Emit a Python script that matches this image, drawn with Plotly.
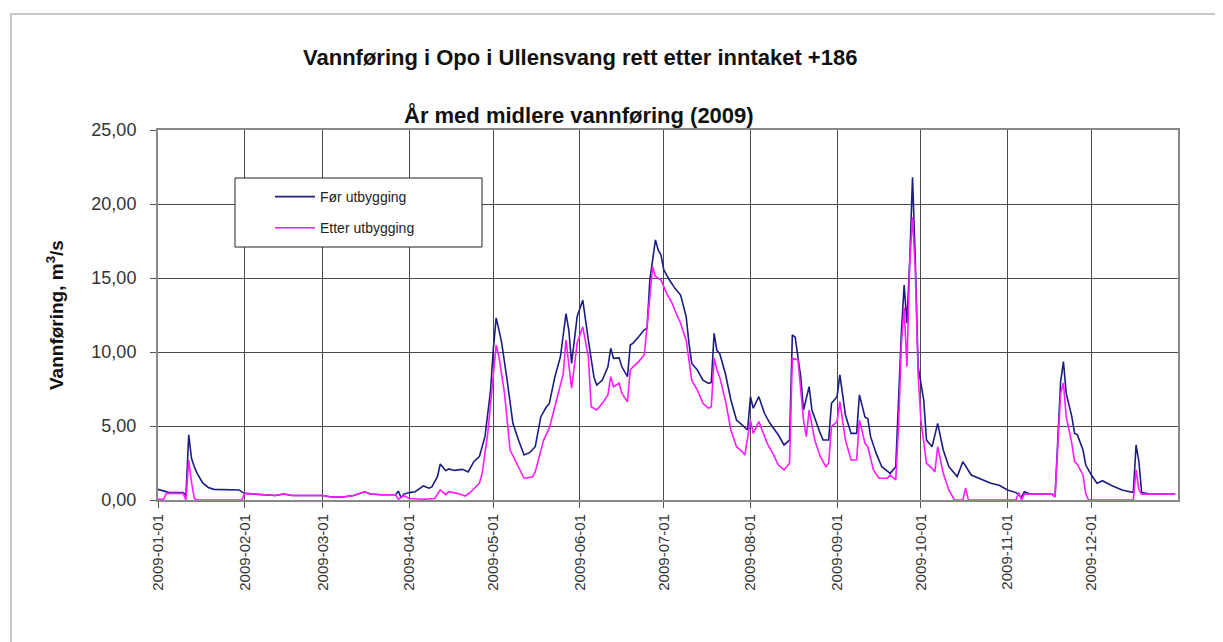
import pandas as pd
import plotly.graph_objects as go

# ---- data (day offset from 2009-01-01, value in m3/s) ----
for_days = [0, 2, 4, 9, 10, 11, 12, 13, 14, 16, 18, 20, 25, 29, 30, 31, 34, 38, 42, 45, 48, 52, 56, 59,
            62, 66, 70, 74, 76, 80, 85, 86, 87, 88, 90, 92, 95, 97, 98, 100, 101, 103, 104, 106, 109,
            111, 113, 115, 117, 119, 120, 121, 122, 123, 125, 127, 129, 131, 133, 135, 137, 139, 140,
            142, 144, 146, 147, 148, 150, 152, 154, 156, 157, 159, 161, 162, 163, 165, 166, 168, 169,
            170, 172, 174, 175, 176, 178, 179, 180, 181, 183, 185, 187, 189, 190, 191, 193, 195, 197,
            198, 199, 200, 201, 203, 205, 207, 209, 211, 212, 213, 215, 217, 219, 222, 224, 226, 227,
            228, 230, 231, 233, 234, 237, 238, 240, 241, 243, 244, 246, 248, 250, 251, 253, 254, 255,
            257, 259, 262, 264, 265, 266, 267, 268, 269, 270, 271, 272, 274, 275, 277, 279, 281, 283,
            286, 288, 291, 294, 298, 301, 304, 307, 309, 310, 312, 320, 321, 323, 324, 325, 327, 328,
            329, 331, 332, 334, 336, 338, 341, 345, 349, 350, 351, 352, 355, 364]
for_vals = [0.72, 0.6, 0.5, 0.5, 0.3, 4.4, 2.8, 2.25, 1.8, 1.15, 0.85, 0.72, 0.7, 0.68, 0.55, 0.45, 0.4,
            0.35, 0.3, 0.4, 0.3, 0.3, 0.3, 0.3, 0.2, 0.2, 0.3, 0.55, 0.4, 0.35, 0.35, 0.6, 0.15, 0.4,
            0.5, 0.56, 0.95, 0.8, 0.88, 1.58, 2.43, 1.98, 2.1, 2.0, 2.07, 1.9, 2.59, 2.93, 4.28, 7.4,
            10.2, 12.3, 11.5, 10.6, 8.0, 5.18, 4.05, 3.04, 3.2, 3.6, 5.63, 6.3, 6.5, 8.3, 9.68, 12.6,
            11.5, 9.23, 12.4, 13.5, 10.8, 8.3, 7.77, 8.1, 9.0, 10.25, 9.57, 9.6, 9.0, 8.33, 10.47, 10.6,
            11.03, 11.5, 11.6, 14.86, 17.57, 16.9, 16.55, 15.54, 14.86, 14.3, 13.85, 12.39, 10.6, 9.23,
            8.78, 8.1, 7.88, 7.95, 11.26, 10.1, 9.9, 8.56, 6.76, 5.4, 5.07, 4.73, 6.98, 6.2, 6.98, 5.86,
            5.18, 4.39, 3.72, 4.05, 11.15, 11.0, 8.33, 6.08, 7.66, 6.08, 4.5, 4.05, 4.05, 6.53, 6.98,
            8.45, 5.74, 4.5, 4.5, 7.1, 5.6, 5.5, 4.28, 3.15, 2.25, 1.8, 2.25, 7.2, 11.26, 14.53, 11.94,
            16.2, 21.8, 16.2, 9.0, 6.76, 4.05, 3.6, 5.18, 3.38, 2.25, 1.58, 2.59, 1.69, 1.45, 1.13, 1.0,
            0.68, 0.5, 0.2, 0.56, 0.4, 0.4, 0.2, 8.0, 9.35, 7.2, 5.63, 4.5, 4.4, 3.38, 2.36, 1.69, 1.13,
            1.3, 1.0, 0.68, 0.5, 3.72, 2.6, 0.5, 0.4, 0.4]

etter_days = [0, 2, 3, 9, 10, 11, 12, 13, 14, 30, 31, 34, 38, 42, 45, 48, 52, 56, 59, 62, 66, 70, 74, 76,
              80, 85, 86, 88, 90, 95, 99, 101, 103, 104, 107, 110, 112, 115, 116, 118, 120, 121, 122,
              124, 126, 129, 131, 134, 135, 138, 140, 142, 145, 146, 148, 150, 152, 154, 155, 157, 159,
              161, 162, 163, 165, 166, 168, 169, 170, 172, 174, 175, 177, 178, 180, 182, 184, 185, 187,
              189, 191, 193, 195, 197, 198, 199, 200, 201, 203, 205, 207, 209, 210, 212, 213, 215, 218,
              220, 222, 224, 226, 227, 229, 231, 232, 233, 235, 237, 239, 240, 241, 243, 244, 246, 248,
              250, 251, 253, 254, 256, 258, 261, 262, 264, 265, 266, 267, 268, 269, 270, 271, 272, 273,
              275, 277, 278, 279, 281, 283, 285, 288, 289, 290, 307, 308, 309, 310, 320, 321, 323, 324,
              325, 327, 328, 329, 331, 332, 333, 349, 350, 351, 352, 364]
etter_vals = [0.05, 0.05, 0.45, 0.45, 0.0, 2.7, 1.2, 0.1, 0.0, 0.0, 0.45, 0.4, 0.35, 0.3, 0.4, 0.3, 0.3,
              0.3, 0.3, 0.2, 0.2, 0.3, 0.55, 0.4, 0.35, 0.35, 0.05, 0.3, 0.1, 0.05, 0.1, 0.68, 0.35,
              0.56, 0.45, 0.27, 0.56, 1.13, 1.8, 4.5, 8.78, 10.47, 9.7, 7.2, 3.38, 2.25, 1.47, 1.55,
              1.91, 4.05, 4.84, 6.3, 8.5, 10.8, 7.55, 10.6, 11.7, 9.68, 6.3, 6.08, 6.53, 7.1, 8.33,
              7.66, 7.9, 7.2, 6.64, 8.78, 9.0, 9.35, 9.8, 11.7, 15.76, 15.1, 14.86, 13.96, 13.29, 12.8,
              11.94, 10.8, 8.1, 7.43, 6.53, 6.2, 6.3, 9.6, 8.8, 8.3, 6.76, 4.73, 3.6, 3.27, 3.04, 5.4,
              4.5, 5.3, 3.83, 3.15, 2.36, 2.03, 2.48, 9.57, 9.46, 5.4, 4.28, 6.08, 4.05, 2.93, 2.25,
              2.5, 4.95, 5.3, 6.64, 4.05, 2.7, 2.7, 5.4, 3.83, 3.6, 2.03, 1.47, 1.47, 1.69, 1.35, 4.95,
              10.5, 13.0, 9.0, 16.0, 19.1, 15.5, 8.5, 5.4, 2.48, 2.14, 1.9, 3.6, 1.8, 0.68, 0.0, 0.0,
              0.79, 0.0, 0.0, 0.5, 0.0, 0.4, 0.4, 0.2, 7.2, 7.9, 5.63, 3.83, 2.6, 2.4, 1.69, 0.4, 0.0,
              0.0, 2.03, 0.7, 0.4, 0.4]

x_tick_labels = ["2009-01-01", "2009-02-01", "2009-03-01", "2009-04-01", "2009-05-01", "2009-06-01",
                 "2009-07-01", "2009-08-01", "2009-09-01", "2009-10-01", "2009-11-01", "2009-12-01"]
y_ticks = [0, 5, 10, 15, 20, 25]

series_names = ["Før utbygging", "Etter utbygging"]

start = pd.Timestamp("2009-01-01")
for_dates = [start + pd.Timedelta(days=d) for d in for_days]
etter_dates = [start + pd.Timedelta(days=d) for d in etter_days]

FONT = "Liberation Sans, Arial, sans-serif"

fig = go.Figure()
fig.add_trace(go.Scatter(x=for_dates, y=for_vals, mode="lines", name=series_names[0],
                         line=dict(color="#1c1c84", width=1.6), legendgroup="a"))
fig.add_trace(go.Scatter(x=etter_dates, y=etter_vals, mode="lines", name=series_names[1],
                         line=dict(color="#ff1aff", width=1.6), legendgroup="b"))

# page body has an 8px margin; positions below are given in screenshot pixels
OFF = 8
W, H = 1223 - OFF, 642 - OFF
PL, PR, PT, PB = 158, 1178, 130, 500      # plot area in screenshot pixels
L, R, T, B = PL - OFF, W - (PR - OFF), PT - OFF, H - (PB - OFF)
pw, ph = W - L - R, H - T - B


def px_x(x):
    return (x - OFF - L) / pw


def px_y(y):
    return (H - B - (y - OFF)) / ph


fig.update_layout(
    width=W, height=H, autosize=False,
    margin=dict(l=L, r=R, t=T, b=B, pad=0),
    paper_bgcolor="white", plot_bgcolor="white",
    separators=", ",
    font=dict(family=FONT, color="#222222"),
    showlegend=True,
    legend=dict(x=px_x(270), y=px_y(181), xanchor="left", yanchor="top",
                bgcolor="rgba(0,0,0,0)", borderwidth=0, tracegroupgap=10,
                traceorder="grouped", itemwidth=40,
                font=dict(size=14, family=FONT, color="#222222")),
    xaxis=dict(type="date", range=["2009-01-01", "2010-01-01"],
               tickvals=x_tick_labels, ticktext=x_tick_labels, tickangle=-90,
               tickfont=dict(size=15, family=FONT, color="#333333"),
               showgrid=True, gridcolor="#4a4a4a", gridwidth=1.3,
               showline=True, linecolor="#888888", linewidth=2, mirror=True,
               ticks="outside", ticklen=6, tickcolor="#555555", zeroline=False),
    yaxis=dict(range=[0, 25], tickvals=y_ticks, tickformat=".2f",
               tickfont=dict(size=18, family=FONT, color="#333333"),
               ticklabelstandoff=10,
               showgrid=True, gridcolor="#4a4a4a", gridwidth=1.3,
               showline=True, linecolor="#888888", linewidth=2, mirror=True,
               ticks="outside", ticklen=6, tickcolor="#555555", zeroline=False),
)

# outer chart frame
fig.add_shape(type="rect", xref="paper", yref="paper",
              x0=px_x(11), x1=px_x(1240), y0=px_y(660), y1=px_y(14),
              line=dict(color="#c8c8c8", width=2), layer="below")
# legend box
fig.add_shape(type="rect", xref="paper", yref="paper",
              x0=px_x(235), x1=px_x(482), y0=px_y(247), y1=px_y(178),
              line=dict(color="#222222", width=1), fillcolor="white", layer="above", opacity=1)

fig.add_annotation(text="<b>Vannføring i Opo i Ullensvang rett etter inntaket +186</b>",
                   xref="paper", yref="paper", x=px_x(580), y=px_y(57),
                   xanchor="center", yanchor="middle",
                   showarrow=False, font=dict(size=22, family=FONT, color="#111111"))
fig.add_annotation(text="<b>År med midlere vannføring (2009)</b>",
                   xref="paper", yref="paper", x=px_x(579), y=px_y(115),
                   xanchor="center", yanchor="middle",
                   showarrow=False, font=dict(size=22, family=FONT, color="#111111"))
fig.add_annotation(text="<b>Vannføring, m<sup>3</sup>/s</b>", textangle=-90,
                   xref="paper", yref="paper", x=px_x(55), y=px_y(315),
                   xanchor="center", yanchor="middle",
                   showarrow=False, font=dict(size=19, family=FONT, color="#111111"))

fig.write_html("out.html")
